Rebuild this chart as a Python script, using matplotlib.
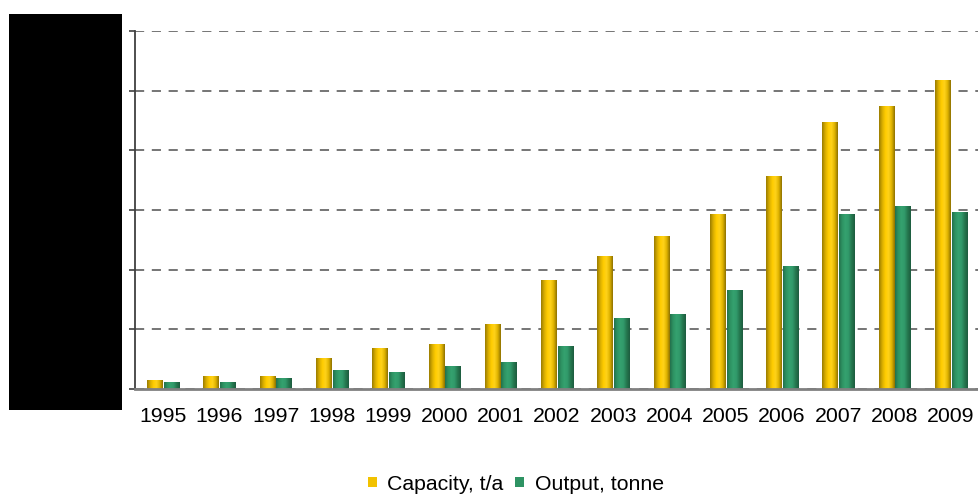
import numpy as np
import matplotlib
matplotlib.use("Agg")
import matplotlib.pyplot as plt
from matplotlib.patches import Rectangle, Patch
from matplotlib.colors import LinearSegmentedColormap

years = ["1995", "1996", "1997", "1998", "1999", "2000", "2001", "2002",
         "2003", "2004", "2005", "2006", "2007", "2008", "2009"]
capacity = [15, 22, 22, 52, 69, 75, 109, 183, 223, 256, 293, 357, 447, 474, 518]
output = [12, 12, 18, 32, 28, 39, 45, 72, 119, 126, 166, 206, 293, 307, 296]
series_names = ["Capacity, t/a", "Output, tonne"]

plt.rcParams['font.family'] = ['Liberation Sans', 'DejaVu Sans']

W, H = 979, 495
fig = plt.figure(figsize=(W / 100, H / 100), dpi=100)
ax = fig.add_axes([135 / W, (H - 389) / H, (979 - 135) / W, (389 - 31) / H])

x = np.arange(len(years))
bw = 0.27
off = 0.148

gold_cmap = LinearSegmentedColormap.from_list(
    "gold", ["#9a7c00", "#d8ad00", "#ffcc00", "#ffd21a", "#e0b400", "#8f7200"])
green_cmap = LinearSegmentedColormap.from_list(
    "green", ["#23704c", "#2e9363", "#35a26f", "#31996a", "#25774f", "#1d5c3f"])

bars1 = ax.bar(x - off, capacity, width=bw, color="#f2c200", zorder=3, linewidth=0)
bars2 = ax.bar(x + off, output, width=bw, color="#2e9363", zorder=3, linewidth=0)

grad = np.linspace(0, 1, 64).reshape(1, -1)
for bars, cmap in ((bars1, gold_cmap), (bars2, green_cmap)):
    for b in bars:
        x0, y0 = b.get_x(), b.get_y()
        w, h = b.get_width(), b.get_height()
        im = ax.imshow(grad, cmap=cmap, aspect="auto",
                       extent=(x0, x0 + w, y0, y0 + h), zorder=4,
                       interpolation="bilinear")
        im.set_clip_path(b)

ax.set_xlim(-0.5, len(years) - 0.5)
ax.set_ylim(0, 600)
ax.set_yticks(np.arange(0, 601, 100))
ax.set_yticklabels([])
ax.set_xticks(x)
ax.set_xticklabels(years, fontsize=15.3)
ax.tick_params(axis="x", length=0, pad=13)
ax.tick_params(axis="y", length=4, width=1.2, color="#404040", direction="out")

ax.yaxis.grid(True, linestyle=(0, (6, 5)), color="#505050", linewidth=1.1, zorder=1)
ax.set_axisbelow(True)
for s in ("top", "right"):
    ax.spines[s].set_visible(False)
ax.spines["left"].set_color("#404040")
ax.spines["left"].set_linewidth(1.3)
ax.spines["bottom"].set_color("#808080")
ax.spines["bottom"].set_linewidth(2)
ax.spines["bottom"].set_zorder(5)

handles = [Patch(facecolor="#f2c200", edgecolor="none"),
           Patch(facecolor="#2e9363", edgecolor="none")]
fig.legend(handles, series_names, loc="center", bbox_to_anchor=(516 / W, (H - 484) / H),
           ncol=2, frameon=False, fontsize=15.3, handlelength=0.4, handleheight=0.4,
           handletextpad=0.5, columnspacing=0.55)

fig.patches.append(Rectangle((9 / W, (H - 410) / H), 113 / W, 396 / H,
                             transform=fig.transFigure, facecolor="black",
                             edgecolor="none", zorder=10))

fig.savefig("out.png", dpi=100)
